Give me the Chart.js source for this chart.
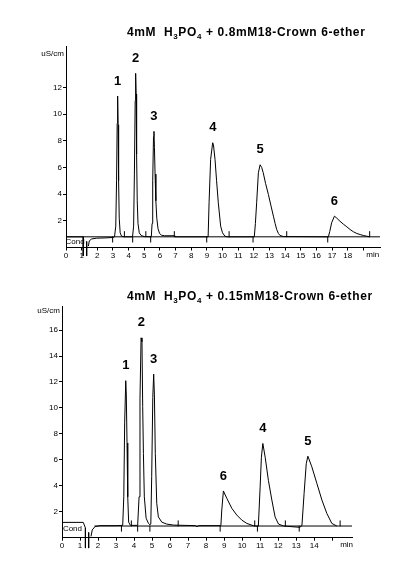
<!DOCTYPE html>
<html>
<meta charset="UTF-8">
<title>18-Crown-6 chromatograms</title>
<style type="text/css">
	html,
	body {
		margin: 0px;
		width: 396px;
		height: 567px;
		background: #fff;
		overflow: hidden;
	}

	.panel {
		position: absolute;
		left: 0px;
		width: 396px;
	}

	.title {
		position: absolute;
		left: 127px;
		font: bold 12px "Liberation Sans", Arial, sans-serif;
		letter-spacing: 0.6px;
		line-height: 14px;
		white-space: pre;
		color: #000;
	}

	.title sub {
		font-size: 8px;
		vertical-align: -3px;
		line-height: 0;
	}
</style>
<script src="https://cdn.jsdelivr.net/npm/chart.js"></script>

<body>

	<div class="panel" style="top:0px;height:270px"><canvas id="topChart"></canvas></div>
	<div class="panel" style="top:270px;height:297px"><canvas id="bottomChart"></canvas></div>
	<div class="title" style="top:25px">4mM  H<sub>3</sub>PO<sub>4</sub> + 0.8mM18-Crown 6-ether</div>
	<div class="title" style="top:289px">4mM  H<sub>3</sub>PO<sub>4</sub> + 0.15mM18-Crown 6-ether</div>

	<script>
		// ---- 0.8 mM crown ether run ----
		var topTime = [1.43, 1.49, 1.64, 1.96, 2.5, 3.0,
			3.1, 3.18, 3.23, 3.27, 3.3, 3.33, 3.36, 3.4, 3.46, 3.55, 3.7,
			4.25, 4.32, 4.37, 4.42, 4.45, 4.48, 4.51, 4.55, 4.6, 4.68, 4.8, 5.0,
			5.45, 5.5, 5.54, 5.59, 5.62, 5.65, 5.69, 5.74, 5.8, 5.88, 5.98, 6.1, 6.3, 6.9, 6.95,
			9.08, 9.14, 9.24, 9.37, 9.42, 9.52, 9.62, 9.73, 9.88, 10.0, 10.15, 10.3,
			12.03, 12.1, 12.18, 12.29, 12.4, 12.5, 12.6, 12.75, 12.93, 13.1, 13.25, 13.36, 13.46, 13.57, 13.67, 13.9,
			16.76, 16.85, 16.97, 17.15, 17.3, 17.5, 17.72, 17.94, 18.15, 18.36, 18.58, 18.79, 19.0, 19.2, 19.4];
		var topSignal = [0.1, 0.5, 0.64, 0.7, 0.72, 0.75,
			0.8, 1.6, 5, 9.3, 11.35, 9.2, 5, 2.2, 1.1, 0.85, 0.8,
			0.8, 1.6, 5.5, 11, 13.05, 11.5, 7, 3.5, 1.8, 1.1, 0.9, 0.82,
			0.8, 1.8, 5, 8.3, 8.7, 7.5, 5.5, 3.5, 2.2, 1.4, 1.05, 0.92, 0.88, 0.88, 0.8,
			0.8, 3.35, 6.6, 7.85, 7.7, 6.6, 5, 3.35, 1.6, 1.1, 0.85, 0.8,
			0.8, 1.8, 3.35, 5.6, 6.2, 6.0, 5.6, 4.8, 3.97, 3.1, 2.35, 1.8, 1.35, 1.05, 0.9, 0.82,
			0.8, 1.2, 1.85, 2.35, 2.2, 1.97, 1.75, 1.55, 1.35, 1.18, 1.05, 0.97, 0.9, 0.85, 0.8];
		var topBaseline = 0.8;
		var topPeakNames = ['1', '2', '3', '4', '5', '6'];
		var topPeakTimes = [3.3, 4.45, 5.62, 9.38, 12.4, 17.15];
		var topPeakHeights = [11.35, 13.05, 8.7, 7.85, 6.2, 2.35];
		var topStartMarks = [2.98, 4.26, 5.41, 8.99, 11.95, 16.72];
		var topEndMarks = [3.73, 5.1, 6.92, 10.42, 14.1, 19.4];
		var topCondTime = [0, 1.1, 1.1];
		var topCondSignal = [0.8, 0.8, -0.64];
		var topInjectTime = [1.32, 1.32];
		var topInjectSignal = [0.45, -0.64];
		var topYLabels = [2, 4, 6, 8, 10, 12];
		var topXLabels = [0, 1, 2, 3, 4, 5, 6, 7, 8, 9, 10, 11, 12, 13, 14, 15, 16, 17, 18];

		// ---- 0.15 mM crown ether run ----
		var bottomTime = [1.61, 1.68, 1.83, 2.1, 3.0,
			3.37, 3.43, 3.48, 3.54, 3.57, 3.61, 3.65, 3.7, 3.8,
			4.2, 4.28, 4.33, 4.39, 4.44, 4.48, 4.52, 4.57, 4.67, 4.8, 4.88,
			4.93, 4.98, 5.04, 5.09, 5.13, 5.18, 5.26, 5.35, 5.54, 5.81, 6.2,
			7.4, 7.5, 7.6,
			8.82, 8.87, 8.96, 9.15, 9.43, 9.7, 9.98, 10.26, 10.63, 10.9,
			11.0, 11.07, 11.15, 11.28, 11.46, 11.65, 11.83, 12.02, 12.3,
			13.2, 13.32, 13.44, 13.56, 13.65, 13.87, 14.15, 14.43, 14.7, 14.98, 15.26];
		var bottomSignal = [0.1, 0.6, 0.85, 0.93, 0.93,
			0.95, 3.15, 8.9, 12.1, 11, 7.3, 3.15, 1.2, 0.95,
			0.95, 3.15, 10.7, 15.4, 15.1, 10.1, 6.5, 3.15, 1.5, 1.1, 1.0,
			1.05, 4.7, 10.8, 12.6, 11, 6.5, 2.65, 1.6, 1.2, 1.05, 0.97,
			0.93, 0.85, 0.93,
			0.93, 2.13, 3.6, 3.03, 2.26, 1.75, 1.36, 1.1, 0.92, 0.88,
			3.9, 6.2, 7.26, 6.2, 4.4, 2.9, 1.6, 1.05, 0.9,
			0.8, 0.93, 3.4, 5.7, 6.28, 5.46, 4.18, 2.9, 1.88, 1.1, 0.9];
		var bottomBaseline = 0.9;
		var bottomPeakNames = ['1', '2', '3', '6', '4', '5'];
		var bottomPeakTimes = [3.54, 4.41, 5.09, 8.96, 11.15, 13.65];
		var bottomPeakHeights = [12.1, 15.4, 12.6, 3.6, 7.26, 6.28];
		var bottomStartMarks = [3.3, 4.2, 4.88, 8.78, 10.85, 13.17];
		var bottomEndMarks = [3.85, 6.45, 10.7, 12.4, 15.44];
		var bottomCondTime = [0, 1.18, 1.3, 1.3];
		var bottomCondSignal = [1.18, 1.18, 0.75, -0.8];
		var bottomInjectTime = [1.48, 1.48];
		var bottomInjectSignal = [0.4, -0.8];
		var bottomYLabels = [2, 4, 6, 8, 10, 12, 14, 16];
		var bottomXLabels = [0, 1, 2, 3, 4, 5, 6, 7, 8, 9, 10, 11, 12, 13, 14];

		var fontFamily = '"Liberation Sans", Arial, sans-serif';

		function toPoints(xs, ys) {
			return xs.map(function (x, i) { return { x: x, y: ys[i] }; });
		}

		function marks(times, level) {
			return times.map(function (t) { return { x: t, y: level }; });
		}

		function lineSet(points, clip) {
			return {
				data: points,
				showLine: true,
				borderColor: '#000',
				borderWidth: 1,
				pointRadius: 0,
				tension: 0,
				clip: clip ? undefined : false
			};
		}

		function markSet(points) {
			return {
				data: points,
				showLine: false,
				pointStyle: 'line',
				rotation: 90,
				radius: 3,
				borderColor: '#000',
				borderWidth: 1
			};
		}

		// text drawn on top of the traces: peak numbers, Cond, min, unit
		function textPlugin(s) {
			return {
				id: 'texts',
				afterDatasetsDraw: function (chart) {
					var ctx = chart.ctx;
					var x = chart.scales.x;
					var y = chart.scales.y;
					ctx.save();
					ctx.fillStyle = '#000';
					ctx.textAlign = 'center';
					ctx.textBaseline = 'middle';
					ctx.font = 'bold 13px ' + fontFamily;
					for (var i = 0; i < s.names.length; i++) {
						ctx.fillText(s.names[i], x.getPixelForValue(s.times[i]), y.getPixelForValue(s.heights[i]) - 15);
					}
					ctx.font = '8px ' + fontFamily;
					ctx.fillText('Cond', x.getPixelForValue(0.58), y.getPixelForValue(s.condAt));
					ctx.fillText('min', x.getPixelForValue(s.minAt), x.top + 7);
					ctx.textAlign = 'right';
					ctx.fillText('uS/cm', x.left - 2, y.top + s.unitDrop);
					ctx.restore();
				}
			};
		}

		function makeChart(id, s) {
			var datasets = [
				lineSet([{ x: s.refFrom, y: s.baseline }, { x: s.xMax, y: s.baseline }], true),
				lineSet(toPoints(s.time, s.signal), true),
				lineSet(toPoints(s.condTime, s.condSignal), false),
				lineSet(toPoints(s.injectTime, s.injectSignal), false),
				markSet(marks(s.starts, s.baseline - 0.2)),
				markSet(marks(s.ends, s.baseline + 0.2))
			];
			return new Chart(document.getElementById(id), {
				type: 'scatter',
				data: { datasets: datasets },
				options: {
					responsive: true,
					maintainAspectRatio: false,
					animation: false,
					events: [],
					layout: { padding: { top: s.padTop, right: s.padRight, left: 0, bottom: 0 } },
					plugins: {
						legend: { display: false },
						tooltip: { enabled: false }
					},
					scales: {
						x: {
							type: 'linear',
							min: 0,
							max: s.xMax,
							afterFit: function (scale) { scale.height = s.xAxisHeight; },
							border: { color: '#000', width: 1 },
							grid: { drawOnChartArea: false, drawTicks: true, tickLength: 3, color: '#000' },
							ticks: {
								stepSize: 1,
								maxTicksLimit: 100,
								autoSkip: false,
								includeBounds: false,
								maxRotation: 0,
								padding: 0,
								color: '#000',
								font: { family: fontFamily, size: 8 },
								callback: function (v) {
									if (s.xLabels.indexOf(v) >= 0) return String(v);
									return v == s.lastTick ? '' : null;
								}
							}
						},
						y: {
							min: 0,
							max: s.yMax,
							afterFit: function (scale) { scale.width = s.axisLeft; },
							border: { color: '#000', width: 1 },
							grid: { drawOnChartArea: false, drawTicks: true, tickLength: 3, color: '#000' },
							ticks: {
								stepSize: 2,
								includeBounds: false,
								padding: 1,
								color: '#000',
								font: { family: fontFamily, size: 8 },
								callback: function (v) {
									return s.yLabels.indexOf(v) >= 0 ? String(v) : null;
								}
							}
						}
					}
				},
				plugins: [textPlugin(s)]
			});
		}

		makeChart('topChart', {
			time: topTime, signal: topSignal, baseline: topBaseline, refFrom: 0,
			condTime: topCondTime, condSignal: topCondSignal,
			injectTime: topInjectTime, injectSignal: topInjectSignal,
			starts: topStartMarks, ends: topEndMarks,
			names: topPeakNames, times: topPeakTimes, heights: topPeakHeights,
			xLabels: topXLabels, yLabels: topYLabels, lastTick: 19,
			xMax: 20.06, yMax: 15.1,
			padTop: 46, padRight: 16, axisLeft: 66, xAxisHeight: 22.5,
			condAt: 0.45, minAt: 19.6, unitDrop: 8
		});

		makeChart('bottomChart', {
			time: bottomTime, signal: bottomSignal, baseline: bottomBaseline, refFrom: 1.8,
			condTime: bottomCondTime, condSignal: bottomCondSignal,
			injectTime: bottomInjectTime, injectSignal: bottomInjectSignal,
			starts: bottomStartMarks, ends: bottomEndMarks,
			names: bottomPeakNames, times: bottomPeakTimes, heights: bottomPeakHeights,
			xLabels: bottomXLabels, yLabels: bottomYLabels, lastTick: 15,
			xMax: 16.1, yMax: 17.8,
			padTop: 36.7, padRight: 44, axisLeft: 62, xAxisHeight: 29.3,
			condAt: 0.7, minAt: 15.8, unitDrop: 4
		});
	</script>
</body>

</html>
